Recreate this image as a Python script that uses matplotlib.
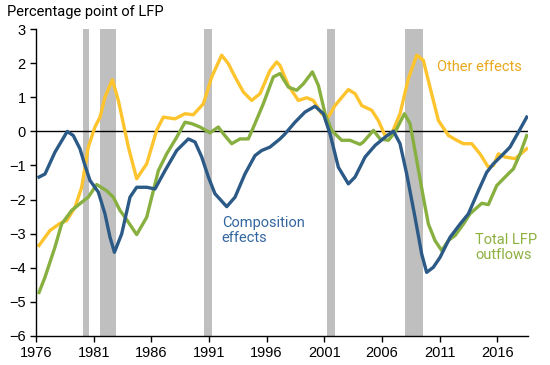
import matplotlib
matplotlib.use('Agg')
import matplotlib.pyplot as plt
import numpy as np

# recession periods (start, end)
recessions = [(1980.08, 1980.62), (1981.57, 1982.95), (1990.55, 1991.3),
              (2001.2, 2001.97), (2007.97, 2009.54)]

# composition effects (blue)
comp_years = [1976.26, 1976.78, 1977.64, 1978.71, 1979.23, 1979.81, 1980.25, 1980.68, 1981.4, 1981.98,
              1982.41, 1982.8, 1983.43, 1984.15, 1984.73, 1985.6, 1986.32, 1987.19, 1988.2, 1989.21,
              1989.79, 1990.37, 1990.95, 1991.52, 1992.54, 1993.26, 1994.12, 1994.99, 1995.57, 1996.29,
              1997.16, 1997.6, 1998.46, 1999.33, 2000.2, 2000.92, 2001.5, 2002.22, 2003.09, 2003.67,
              2004.1, 2004.54, 2005.41, 2006.27, 2007.0, 2007.57, 2008.15, 2008.87, 2009.45, 2009.88,
              2010.46, 2011.04, 2011.91, 2012.78, 2013.5, 2014.37, 2015.09, 2015.67, 2016.39, 2017.11,
              2017.84, 2018.56]
comp_vals = [-1.34, -1.25, -0.61, 0.0, -0.12, -0.51, -1.0, -1.44, -1.78, -2.42,
             -3.1, -3.55, -3.01, -1.93, -1.64, -1.64, -1.69, -1.15, -0.56, -0.22,
             -0.31, -0.75, -1.34, -1.83, -2.21, -1.93, -1.25, -0.71, -0.56, -0.46,
             -0.22, -0.07, 0.27, 0.57, 0.74, 0.52, -0.07, -1.05, -1.54, -1.34,
             -1.05, -0.75, -0.41, -0.17, 0.01, -0.36, -1.25, -2.52, -3.6, -4.14,
             -3.99, -3.7, -3.11, -2.72, -2.42, -1.74, -1.2, -0.95, -0.71, -0.46,
             -0.02, 0.42]

# other effects (yellow)
other_years = [1976.26, 1977.21, 1978.08, 1978.66, 1979.38, 1979.96, 1980.25, 1980.53, 1981.11, 1981.55,
               1981.98, 1982.62, 1983.14, 1984.01, 1984.73, 1985.6, 1986.46, 1987.04, 1988.05, 1988.92,
               1989.64, 1990.51, 1991.24, 1992.1, 1992.68, 1993.26, 1993.98, 1994.7, 1995.43, 1996.29,
               1996.87, 1997.16, 1997.89, 1998.75, 1999.48, 2000.05, 2000.78, 2001.35, 2001.93, 2003.09,
               2003.67, 2004.25, 2005.12, 2005.69, 2006.27, 2006.85, 2007.57, 2008.29, 2009.02, 2009.59,
               2010.17, 2010.9, 2011.77, 2012.49, 2013.07, 2013.79, 2014.51, 2015.23, 2015.67, 2016.1,
               2016.68, 2017.55, 2018.56]
other_vals = [-3.35, -2.91, -2.7, -2.62, -2.23, -1.64, -1.05, -0.46, 0.13, 0.42,
              1.01, 1.52, 0.91, -0.46, -1.39, -0.95, 0.03, 0.42, 0.37, 0.52,
              0.49, 0.81, 1.6, 2.24, 1.99, 1.6, 1.16, 0.91, 1.11, 1.79,
              2.04, 1.94, 1.35, 0.91, 0.99, 0.91, 0.52, 0.42, 0.76, 1.23,
              1.11, 0.76, 0.62, 0.32, -0.12, -0.07, 0.52, 1.55, 2.24, 2.09,
              1.3, 0.32, -0.12, -0.26, -0.36, -0.36, -0.66, -1.05, -1.0, -0.66,
              -0.75, -0.8, -0.51]

# total LFP outflows (green)
total_years = [1976.26, 1976.78, 1977.64, 1978.22, 1979.09, 1979.96, 1980.53, 1981.26, 1982.12, 1982.7,
               1983.28, 1983.72, 1984.73, 1985.6, 1986.61, 1987.33, 1988.2, 1988.92, 1989.5, 1990.22,
               1991.09, 1991.81, 1992.25, 1992.97, 1993.69, 1994.41, 1994.99, 1995.71, 1996.58, 1997.16,
               1997.89, 1998.61, 1999.19, 1999.97, 2000.49, 2001.07, 2001.64, 2002.51, 2003.23, 2004.1,
               2004.39, 2005.26, 2005.84, 2006.56, 2007.14, 2007.95, 2008.44, 2009.02, 2009.59, 2010.03,
               2010.61, 2011.19, 2011.77, 2012.34, 2013.07, 2013.64, 2014.66, 2015.23, 2015.96, 2016.68,
               2017.4, 2017.98, 2018.56]
total_vals = [-4.73, -4.28, -3.4, -2.72, -2.32, -2.08, -1.93, -1.56, -1.74, -1.93,
              -2.32, -2.52, -3.03, -2.52, -1.15, -0.66, -0.17, 0.27, 0.23, 0.13,
              -0.04, 0.13, -0.07, -0.36, -0.22, -0.22, 0.23, 0.81, 1.6, 1.7,
              1.3, 1.21, 1.4, 1.75, 1.35, 0.52, 0.03, -0.26, -0.26, -0.38,
              -0.31, 0.03, -0.22, -0.26, -0.02, 0.52, 0.23, -0.85, -1.93, -2.72,
              -3.21, -3.5, -3.2, -3.06, -2.72, -2.42, -2.11, -2.15, -1.59, -1.34,
              -1.1, -0.66, -0.12]

x_ticks = [1976, 1981, 1986, 1991, 1996, 2001, 2006, 2011, 2016]
y_ticks = [-6, -5, -4, -3, -2, -1, 0, 1, 2, 3]

BLUE = '#2C5A87'
YELLOW = '#FEC42D'
GREEN = '#88B040'

fig = plt.figure(figsize=(5.5, 3.65), dpi=100)
ax = fig.add_axes([0.0655, 0.0803, 0.8945, 0.8394])

for start, end in recessions:
    ax.axvspan(start, end, color='#BFBFBF', lw=0, zorder=0)

ax.axhline(0, color='black', lw=1, zorder=1)

ax.plot(other_years, other_vals, color=YELLOW, lw=2.4, solid_joinstyle='round', zorder=2)
ax.plot(total_years, total_vals, color=GREEN, lw=2.4, solid_joinstyle='round', zorder=3)
ax.plot(comp_years, comp_vals, color=BLUE, lw=2.4, solid_joinstyle='round', zorder=4)

ax.set_xlim(1976, 2018.67)
ax.set_ylim(-6, 3)
ax.set_xticks(x_ticks)
ax.set_yticks(y_ticks)
ax.spines['top'].set_visible(False)
ax.spines['right'].set_visible(False)
for s in ['left', 'bottom']:
    ax.spines[s].set_linewidth(1)
ax.tick_params(axis='both', direction='out', length=4, width=1, labelsize=10.5,
               colors='black')
for lbl in ax.get_xticklabels() + ax.get_yticklabels():
    lbl.set_family('Liberation Sans')

fig.text(0.013, 0.967, 'Percentage point of LFP', fontsize=10.5, family='Roboto',
         va='center', ha='left')

ax.text(2010.8, 1.9, 'Other effects', color='#E9A81D', fontsize=10.5, family='Roboto',
        va='center', ha='left')
ax.text(1992.1, -2.9, 'Composition\neffects', color='#3366A0', fontsize=10.5,
        family='Roboto', va='center', ha='left', linespacing=1.1)
ax.text(2014.1, -3.4, 'Total LFP\noutflows', color='#8DB03F', fontsize=10.5,
        family='Roboto', va='center', ha='left', linespacing=1.1)

plt.savefig('out.png', dpi=100)
